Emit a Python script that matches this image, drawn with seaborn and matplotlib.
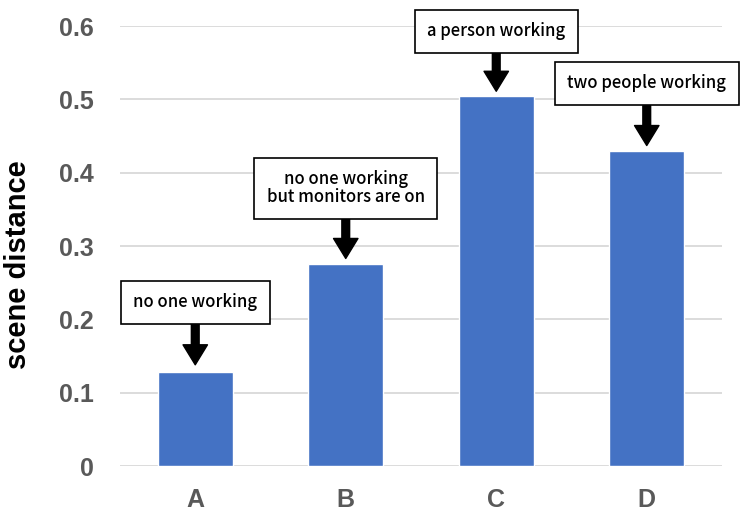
import matplotlib
matplotlib.use("Agg")
import matplotlib.pyplot as plt
import seaborn as sns
import pandas as pd

categories = ["A", "B", "C", "D"]
values = [0.128, 0.275, 0.505, 0.430]
labels = ["no one working", "no one working\nbut monitors are on", "a person working", "two people working"]
label_y = [0.2236, 0.379, 0.593, 0.5216]
tip_y = [0.138, 0.283, 0.511, 0.437]
yticks = [0, 0.1, 0.2, 0.3, 0.4, 0.5, 0.6]
ytick_labels = ["0", "0.1", "0.2", "0.3", "0.4", "0.5", "0.6"]

sns.set_theme(style="white")
plt.rcParams['font.family'] = ['Liberation Sans', 'DejaVu Sans']

fig = plt.figure(figsize=(7.47, 5.30), dpi=100)
ax = fig.add_axes([120/747, 1-466/530, 602/747, 440/530])

df = pd.DataFrame({"cat": categories, "val": values})
sns.barplot(data=df, x="cat", y="val", color="#4472C4", saturation=1, width=0.5, ax=ax, zorder=3)

ax.set_ylim(0, 0.6)
ax.set_xlim(-0.5, 3.5)
ax.set_yticks(yticks)
ax.set_yticklabels(ytick_labels)
ax.yaxis.grid(True, color="#d9d9d9", linewidth=1.3, zorder=0)
ax.set_axisbelow(True)
for s in ax.spines.values():
    s.set_visible(False)
ax.tick_params(axis="both", length=0, labelsize=18, labelcolor="#595959")
ax.tick_params(axis="y", pad=19)
ax.tick_params(axis="x", pad=16)
for t in ax.get_xticklabels() + ax.get_yticklabels():
    t.set_fontweight("bold")
ax.set_xlabel("")
ax.set_ylabel("scene distance", fontsize=21, fontweight="bold", color="black")
ax.yaxis.set_label_coords(-0.146, 0.457)

for i, (lab, ly, ty) in enumerate(zip(labels, label_y, tip_y)):
    ax.annotate(lab, xy=(i, ty), xytext=(i, ly), textcoords="data",
                ha="center", va="center", fontsize=12, color="black",
                family=["Noto Sans CJK JP", "DejaVu Sans"], fontweight="medium",
                linespacing=1.0,
                bbox=dict(boxstyle="square,pad=0.75", fc="white", ec="black", lw=1.2),
                arrowprops=dict(arrowstyle="simple,head_length=0.9,head_width=1.1,tail_width=0.35",
                                fc="black", ec="black", mutation_scale=16, shrinkA=0, shrinkB=0),
                zorder=5, annotation_clip=False)

fig.savefig("out.png", dpi=100)
